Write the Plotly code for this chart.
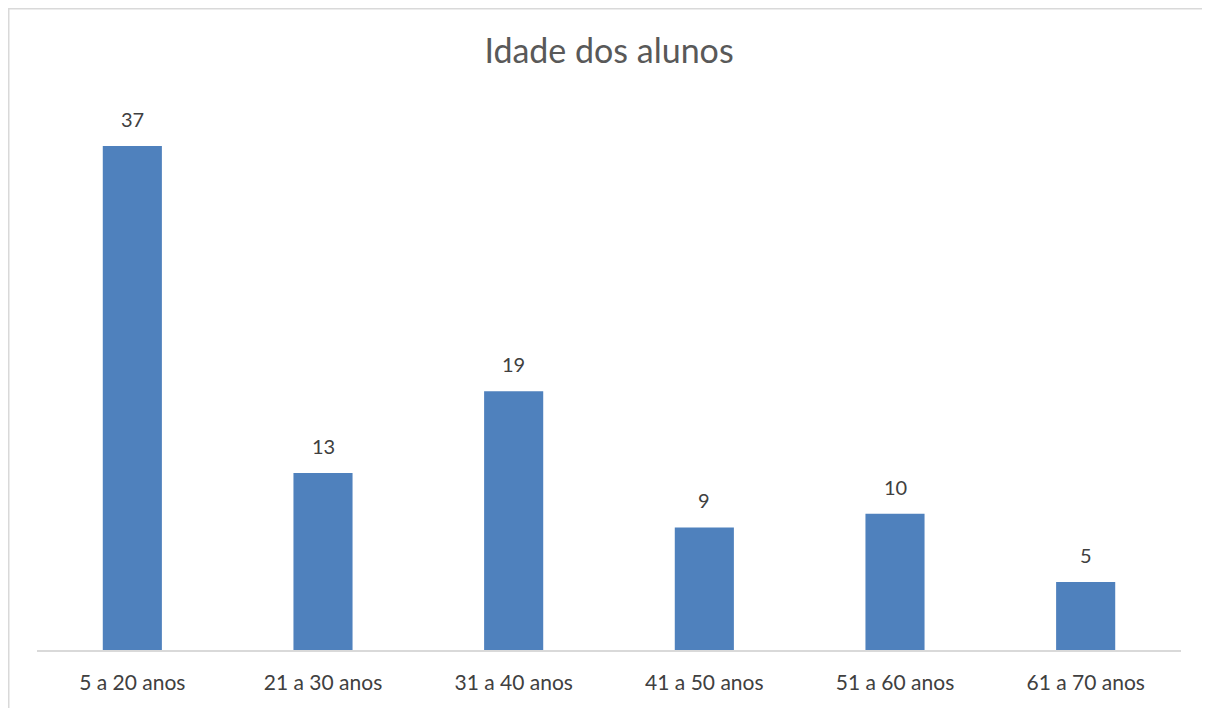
import plotly.graph_objects as go

# Faixas etárias e número de alunos
categories = ['5 a 20 anos', '21 a 30 anos', '31 a 40 anos', '41 a 50 anos', '51 a 60 anos', '61 a 70 anos']
students = [37, 13, 19, 9, 10, 5]

fig = go.Figure()

fig.add_trace(go.Bar(
    x=categories,
    y=students,
    marker_color='#4F81BD',
    marker_line_width=0,
    name='Alunos'
))

# Rótulos de dados acima das barras
for cat, val in zip(categories, students):
    fig.add_annotation(
        x=cat, y=val,
        text=str(val),
        showarrow=False,
        yanchor='bottom',
        yshift=13,
        font=dict(size=20, color='#404040'),
    )

# page body has 8px margin, so the figure is 1202x700 and margins compensate
fig.update_layout(
    width=1202,
    height=700,
    margin=dict(l=29, r=29, t=97, b=58),
    paper_bgcolor='white',
    plot_bgcolor='white',
    font=dict(family='Lato, Open Sans, sans-serif', color='#404040'),
    title=dict(text='Idade dos alunos', x=0.5, xanchor='center', y=0.938, yanchor='middle',
               font=dict(size=34, color='#595959')),
    showlegend=False,
    bargap=0.69,
    xaxis=dict(
        showline=True,
        linecolor='#d9d9d9',
        linewidth=1.5,
        ticks='outside',
        ticklen=13,
        tickcolor='rgba(0,0,0,0)',
        tickfont=dict(size=21, color='#404040'),
        showgrid=False,
    ),
    yaxis=dict(
        range=[0, 40],
        visible=False,
        showgrid=False,
    ),
)

# Borda do gráfico
fig.add_shape(
    type='rect',
    xref='paper', yref='paper',
    x0=-0.0247, x1=1.0236, y0=-0.2, y1=1.1766,
    line=dict(color='#d9d9d9', width=1.5),
    fillcolor='rgba(0,0,0,0)',
    layer='below'
)

fig.write_html("out.html")
